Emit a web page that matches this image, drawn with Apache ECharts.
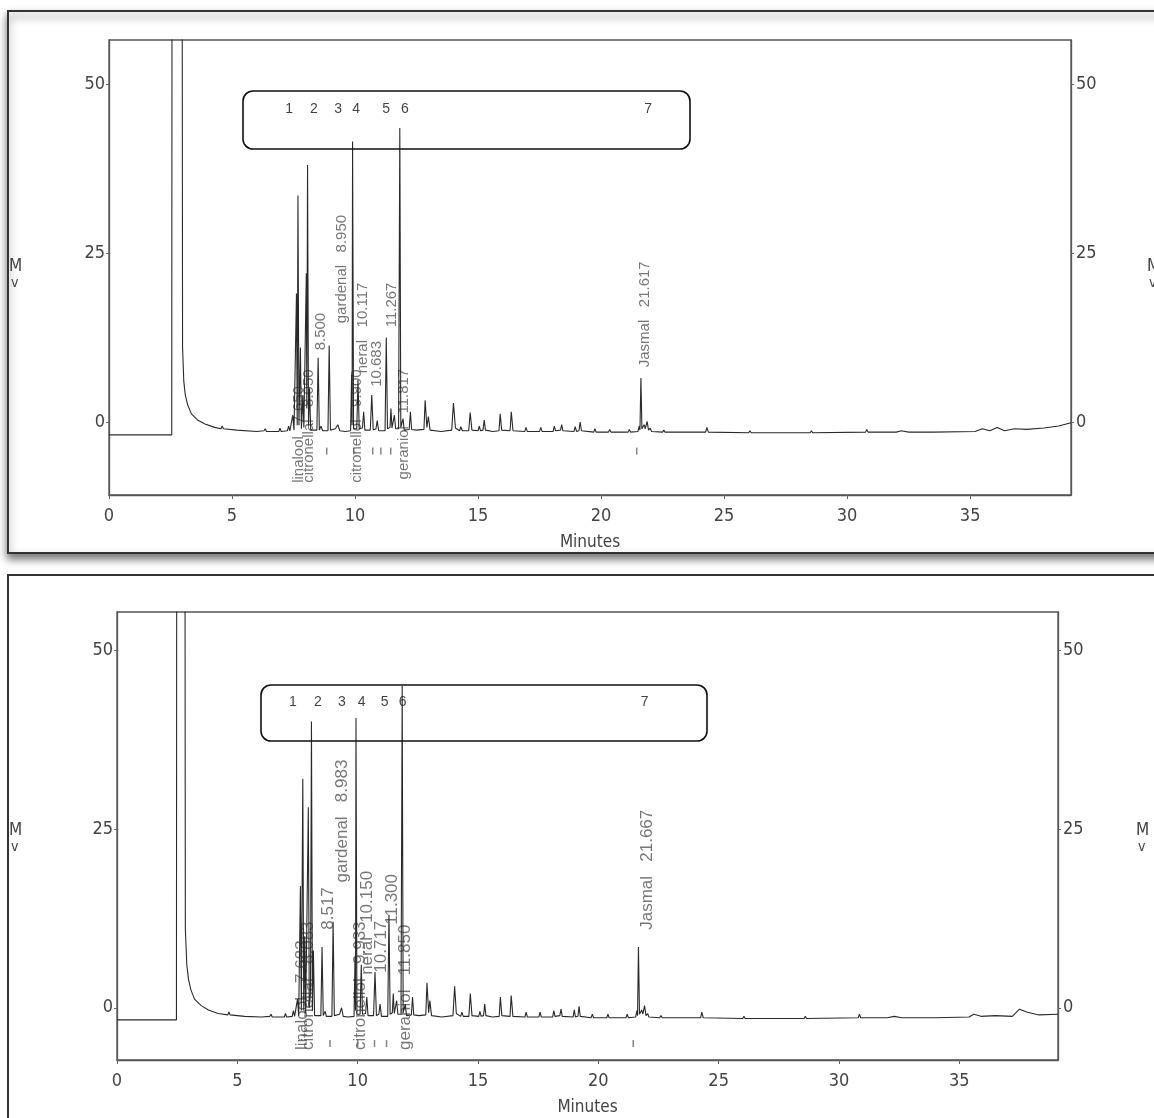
<!DOCTYPE html>
<html>
<head>
<meta charset="utf-8">
<style>
  html, body { margin: 0; padding: 0; background: #fff; }
  #main { width: 1154px; height: 1118px; }
</style>
<script src="https://cdn.jsdelivr.net/npm/echarts@6/dist/echarts.min.js"></script>
</head>
<body>
<div id="main"></div>
<script>
// chromatogram traces: [minutes, mV]
var traceTop = [
  [0,-1.9],[2.55,-1.9],[2.57,120],[2.96,120],[2.99,11],[3.04,6],[3.1,4],[3.2,2.5],[3.35,1.2],[3.6,0.3],[3.9,-0.3],[4.3,-0.8],
  [4.55,-1.0],[4.6,-0.6],[4.65,-1.0],[5.2,-1.2],[6.0,-1.4],[6.3,-1.3],[6.35,-1.0],[6.4,-1.4],[6.9,-1.4],[6.95,-0.9],[7.0,-1.4],
  [7.25,-1.3],[7.3,-0.6],[7.35,-1.3],[7.42,-1.2],[7.47,1.0],[7.52,-1.2],
  [7.58,-1.2],[7.62,19],[7.65,-0.5],[7.68,33.5],[7.72,-0.5],[7.78,11],[7.82,-1.0],[7.88,4],[7.92,-0.8],[7.98,-0.8],
  [8.02,22],[8.04,2],[8.07,38],[8.11,-0.5],[8.15,5],[8.2,-1.2],
  [8.45,-1.2],[8.5,9.5],[8.55,-1.2],[8.62,-0.6],[8.68,-1.3],
  [8.9,-1.3],[8.95,11.3],[9.0,-1.2],[9.2,-1.0],[9.3,-0.4],[9.38,-1.3],[9.6,-1.4],
  [9.82,-1.3],[9.86,7],[9.88,-0.5],[9.9,41.5],[9.94,-1.0],
  [10.07,-1.0],[10.12,6.2],[10.17,-1.0],[10.3,-0.9],[10.35,1.5],[10.4,-1.2],[10.62,-1.2],[10.68,4],[10.74,-1.2],
  [10.85,-1.0],[10.9,0.2],[10.96,-1.3],
  [11.22,-1.3],[11.27,12.5],[11.32,-1.0],[11.42,-0.8],[11.46,2],[11.5,-0.9],[11.6,1],[11.65,-1.0],
  [11.77,-1.0],[11.82,43.5],[11.86,-0.8],[11.95,0.5],[12.0,-1.2],[12.2,-1.1],[12.25,1.5],[12.3,-1.1],[12.5,-1.2],
  [12.8,-1.1],[12.85,3.2],[12.92,-0.8],[12.98,0.8],[13.05,-1.2],[13.5,-1.4],[13.93,-1.2],[14.0,2.8],[14.08,-0.9],
  [14.25,-1.3],[14.3,-0.7],[14.36,-1.3],[14.62,-1.3],[14.68,1.4],[14.75,-1.2],[15.0,-1.3],[15.05,-0.6],[15.1,-1.3],
  [15.2,-1.2],[15.25,0.3],[15.3,-1.2],[15.6,-1.4],[15.85,-1.3],[15.9,1.2],[15.96,-1.2],[16.3,-1.3],[16.35,1.5],[16.42,-1.3],
  [16.9,-1.4],[16.95,-0.8],[17.0,-1.4],[17.5,-1.4],[17.55,-0.8],[17.6,-1.4],[18.05,-1.4],[18.1,-0.6],[18.15,-1.3],
  [18.35,-1.2],[18.4,-0.4],[18.45,-1.3],[18.9,-1.4],[18.95,-0.7],[19.0,-1.4],[19.1,-1.3],[19.15,0],[19.2,-1.3],
  [19.7,-1.5],[19.75,-1.0],[19.8,-1.5],[20.3,-1.5],[20.35,-1.1],[20.4,-1.5],[21.1,-1.5],[21.15,-1.1],[21.2,-1.5],
  [21.5,-1.4],[21.55,-0.6],[21.58,-1.2],[21.62,6.5],[21.66,-1.0],[21.75,-0.4],[21.8,-1.0],[21.87,0.1],[21.93,-1.2],
  [22.0,-0.9],[22.05,-1.4],[22.5,-1.5],[22.55,-1.2],[22.6,-1.5],[24.25,-1.5],[24.3,-0.8],[24.36,-1.5],
  [26,-1.6],[26.05,-1.3],[26.1,-1.6],[28.5,-1.6],[28.55,-1.3],[28.6,-1.6],[30.75,-1.5],[30.8,-1.1],[30.85,-1.5],
  [32,-1.5],[32.2,-1.3],[32.5,-1.5],[33.5,-1.5],[35.2,-1.4],[35.5,-1.0],[35.8,-1.3],[36.1,-0.8],[36.4,-1.3],
  [36.8,-1.0],[37.3,-1.1],[38,-0.9],[38.6,-0.6],[39.1,-0.1]
];

var traceBottom = [
  [0,-1.7],[2.47,-1.7],[2.49,120],[2.81,120],[2.84,11],[2.9,6],[2.97,4],[3.07,2.5],[3.22,1.2],[3.5,0.3],[3.8,-0.3],[4.2,-0.8],
  [4.6,-1.0],[4.65,-0.6],[4.7,-1.0],[5.3,-1.2],[6.0,-1.3],[6.35,-1.2],[6.4,-0.9],[6.45,-1.3],[6.95,-1.3],[7.0,-0.8],[7.05,-1.3],
  [7.28,-1.2],[7.33,-0.4],[7.38,-1.2],[7.45,-1.1],[7.5,1.2],[7.55,-1.1],
  [7.58,-1.1],[7.62,17],[7.66,-0.4],[7.72,32],[7.76,-0.4],[7.8,10],[7.84,-0.8],[7.9,-0.8],[7.95,28],[7.99,0],
  [8.04,2],[8.08,40],[8.12,-0.4],[8.16,8],[8.21,-1.1],
  [8.47,-1.1],[8.52,8.5],[8.57,-1.1],[8.65,-0.5],[8.7,-1.2],
  [8.93,-1.2],[8.98,12],[9.03,-1.1],[9.25,-0.9],[9.33,0],[9.4,-1.2],[9.6,-1.3],
  [9.85,-1.2],[9.89,7],[9.91,-0.4],[9.93,40.5],[9.97,-0.9],
  [10.1,-0.9],[10.15,6],[10.2,-0.9],[10.33,-0.8],[10.38,1.5],[10.43,-1.1],[10.66,-1.1],[10.72,5],[10.78,-1.1],
  [10.88,-0.9],[10.93,0.5],[10.99,-1.2],
  [11.25,-1.2],[11.3,13],[11.35,-0.9],[11.44,-0.7],[11.48,2],[11.52,-0.8],[11.62,1],[11.67,-0.9],
  [11.8,-0.9],[11.85,45],[11.89,-0.7],[11.98,0.5],[12.03,-1.1],[12.23,-1.0],[12.28,1.5],[12.33,-1.0],[12.55,-1.1],
  [12.83,-1.0],[12.88,3.5],[12.95,-0.7],[13.0,1.0],[13.07,-1.1],[13.5,-1.3],[13.96,-1.1],[14.03,3],[14.1,-0.8],
  [14.28,-1.2],[14.33,-0.6],[14.39,-1.2],[14.62,-1.2],[14.68,2],[14.75,-1.1],[15.03,-1.2],[15.08,-0.5],[15.13,-1.2],
  [15.23,-1.1],[15.28,0.5],[15.33,-1.1],[15.6,-1.3],[15.88,-1.2],[15.93,1.5],[15.99,-1.1],[16.33,-1.2],[16.38,1.7],[16.45,-1.2],
  [16.95,-1.3],[17.0,-0.6],[17.05,-1.3],[17.53,-1.3],[17.58,-0.6],[17.63,-1.3],[18.1,-1.3],[18.15,-0.4],[18.2,-1.2],
  [18.4,-1.1],[18.45,-0.2],[18.5,-1.2],[18.95,-1.3],[19.0,-0.3],[19.05,-1.3],[19.15,-1.2],[19.2,0.2],[19.25,-1.2],
  [19.7,-1.4],[19.75,-0.9],[19.8,-1.4],[20.35,-1.4],[20.4,-0.9],[20.45,-1.4],[21.15,-1.4],[21.2,-0.9],[21.25,-1.4],
  [21.55,-1.3],[21.6,-0.4],[21.63,-1.1],[21.667,8.5],[21.71,-0.9],[21.8,-0.3],[21.85,-0.9],[21.92,0.3],[21.98,-1.1],
  [22.05,-0.8],[22.1,-1.3],[22.55,-1.4],[22.6,-1.1],[22.65,-1.4],[24.25,-1.4],[24.3,-0.6],[24.36,-1.4],
  [26,-1.5],[26.05,-1.2],[26.1,-1.5],[28.55,-1.5],[28.6,-1.2],[28.65,-1.5],[30.8,-1.4],[30.85,-0.9],[30.9,-1.4],
  [32,-1.4],[32.3,-1.2],[32.6,-1.4],[34,-1.4],[35.4,-1.3],[35.6,-0.9],[35.9,-1.2],[36.5,-1.1],[37.2,-1.2],
  [37.5,-0.2],[37.8,-0.6],[38.3,-1.0],[39.1,-0.9]
];

// peak labels: [minutes, mV where the text starts, text]
var peakLabelsTop = [
  [7.72, -9.0, 'linalool   7.650'],
  [8.13, -9.0, 'citronellal   8.050'],
  [8.62, 10.6, '8.500'],
  [9.47, 14.6, 'gardenal   8.950'],
  [10.08, -9.0, 'citronellol   9.900'],
  [10.3, 7.2, 'neral   10.117'],
  [10.9, 5.2, '10.683'],
  [11.5, 14.0, '11.267'],
  [12.0, -8.5, 'geraniol   11.817'],
  [21.79, 8.1, 'Jasmal   21.617']
];
var peakLabelsBottom = [
  [7.72, -5.9, 'linalool   7.683'],
  [7.97, -5.9, 'citronellal   8.083'],
  [8.76, 10.9, '8.517'],
  [9.38, 17.5, 'gardenal   8.983'],
  [10.09, -5.9, 'citronellol   9.933'],
  [10.4, 4.6, 'neral   10.150'],
  [11.0, 4.9, '10.717'],
  [11.46, 11.6, '11.300'],
  [12.0, -5.9, 'geraniol   11.850'],
  [22.04, 10.9, 'Jasmal   21.667']
];

// numbered tags inside the rounded boxes: [minutes, mV, text]
var boxNumbersTop = [[7.32,46.2,'1'],[8.33,46.2,'2'],[9.31,46.2,'3'],[10.04,46.2,'4'],[11.26,46.2,'5'],[12.03,46.2,'6'],[21.91,46.2,'7']];
var boxNumbersBottom = [[7.31,42.7,'1'],[8.35,42.7,'2'],[9.34,42.7,'3'],[10.17,42.7,'4'],[11.12,42.7,'5'],[11.87,42.7,'6'],[21.92,42.7,'7']];

// integration marks under the baseline
var marksTop = [[8.85,-4.3],[9.95,-4.3],[10.72,-4.3],[11.05,-4.3],[11.45,-4.3],[21.45,-4.3]];
var marksBottom = [[8.85,-5.0],[10.0,-5.0],[10.7,-5.0],[11.2,-5.0],[21.45,-5.0]];

var xTicks = [0, 5, 10, 15, 20, 25, 30, 35];
var yTicks = [0, 25, 50];

var numFont = "'Liberation Sans Narrow', 'DejaVu Sans Condensed', sans-serif";
var lblFont = "'Liberation Sans', Arial, sans-serif";

var myChart = echarts.init(document.getElementById('main'));

function xAxisOf(grid) {
  return {
    type: 'value', gridIndex: grid, min: 0, max: 39.1,
    name: 'Minutes', nameLocation: 'middle', nameGap: 39,
    nameTextStyle: { color: '#444', fontSize: 17, fontFamily: numFont },
    axisLine: { show: true, onZero: false, lineStyle: { color: '#555', width: 1.3 } },
    axisTick: { show: true, length: 4, customValues: xTicks, lineStyle: { color: '#666' } },
    axisLabel: { customValues: xTicks, margin: 12, color: '#444', fontSize: 18, fontFamily: numFont },
    splitLine: { show: false }
  };
}
function yAxisOf(grid, pos, min, max) {
  return {
    type: 'value', gridIndex: grid, position: pos, min: min, max: max,
    axisLine: { show: true, onZero: false, lineStyle: { color: '#555', width: 1.3 } },
    axisTick: { show: true, length: 3, customValues: yTicks, lineStyle: { color: '#666' } },
    axisLabel: { customValues: yTicks, margin: pos === 'left' ? 4 : 5, color: '#444', fontSize: 18, fontFamily: numFont },
    splitLine: { show: false }
  };
}
function labelSeries(xi, yi, rows, size) {
  return {
    type: 'scatter', xAxisIndex: xi, yAxisIndex: yi, symbolSize: 1, silent: true,
    itemStyle: { color: 'rgba(0,0,0,0)' },
    label: { show: true, formatter: '{b}', rotate: 90, position: 'inside', align: 'left', verticalAlign: 'middle',
             color: '#555', fontSize: size, fontFamily: lblFont },
    data: rows.map(function (r) { return { name: r[2], value: [r[0], r[1]] }; })
  };
}
function numberSeries(xi, yi, rows) {
  return {
    type: 'scatter', xAxisIndex: xi, yAxisIndex: yi, symbolSize: 1, silent: true,
    itemStyle: { color: 'rgba(0,0,0,0)' },
    label: { show: true, formatter: '{b}', position: 'inside', color: '#111', fontSize: 14, fontFamily: lblFont },
    data: rows.map(function (r) { return { name: r[2], value: [r[0], r[1]] }; })
  };
}
function markSeries(xi, yi, rows) {
  return {
    type: 'scatter', xAxisIndex: xi, yAxisIndex: yi, symbol: 'rect', symbolSize: [1.5, 7], silent: true,
    itemStyle: { color: '#666' }, data: rows
  };
}
function traceSeries(xi, yi, rows) {
  return {
    type: 'line', xAxisIndex: xi, yAxisIndex: yi, showSymbol: false, clip: true, silent: true,
    lineStyle: { color: '#2a2a2a', width: 1.1 }, data: rows
  };
}

var option = {
  backgroundColor: '#fff',
  animation: false,
  grid: [
    { left: 109, right: 83, top: 40, height: 455, show: true, borderColor: '#555', borderWidth: 1.3 },
    { left: 117, right: 96, top: 612, height: 448, show: true, borderColor: '#555', borderWidth: 1.3 }
  ],
  xAxis: [xAxisOf(0), xAxisOf(1)],
  yAxis: [
    yAxisOf(0, 'left', -10.8, 56.5), yAxisOf(0, 'right', -10.8, 56.5),
    yAxisOf(1, 'left', -7.3, 55.3), yAxisOf(1, 'right', -7.3, 55.3)
  ],
  graphic: [
    // panel frames
    { type: 'rect', z: -10, shape: { x: 8, y: 11, width: 1160, height: 542 },
      style: { fill: '#fff', stroke: '#333', lineWidth: 2, shadowBlur: 8, shadowOffsetY: 5, shadowColor: 'rgba(0,0,0,0.55)' } },
    { type: 'rect', z: -10, shape: { x: 8, y: 575, width: 1160, height: 560 },
      style: { fill: '#fff', stroke: '#333', lineWidth: 2 } },
    // rounded tag boxes
    { type: 'rect', z: 50, shape: { x: 243, y: 91, width: 447, height: 58, r: 10 },
      style: { fill: 'none', stroke: '#111', lineWidth: 1.6 } },
    { type: 'rect', z: 50, shape: { x: 261, y: 685, width: 446, height: 56, r: 10 },
      style: { fill: 'none', stroke: '#111', lineWidth: 1.6 } },
    // mV axis names
    { type: 'text', left: 9, top: 258, style: { text: 'M', fill: '#444', font: '17px ' + numFont } },
    { type: 'text', left: 11, top: 276, style: { text: 'v', fill: '#444', font: '14px ' + numFont } },
    { type: 'text', left: 1147, top: 258, style: { text: 'M', fill: '#444', font: '17px ' + numFont } },
    { type: 'text', left: 1149, top: 276, style: { text: 'v', fill: '#444', font: '14px ' + numFont } },
    { type: 'text', left: 9, top: 822, style: { text: 'M', fill: '#444', font: '17px ' + numFont } },
    { type: 'text', left: 11, top: 840, style: { text: 'v', fill: '#444', font: '14px ' + numFont } },
    { type: 'text', left: 1136, top: 822, style: { text: 'M', fill: '#444', font: '17px ' + numFont } },
    { type: 'text', left: 1138, top: 840, style: { text: 'v', fill: '#444', font: '14px ' + numFont } }
  ],
  series: [
    traceSeries(0, 0, traceTop),
    markSeries(0, 0, marksTop),
    labelSeries(0, 0, peakLabelsTop, 15),
    numberSeries(0, 0, boxNumbersTop),
    traceSeries(1, 2, traceBottom),
    markSeries(1, 2, marksBottom),
    labelSeries(1, 2, peakLabelsBottom, 17),
    numberSeries(1, 2, boxNumbersBottom)
  ]
};
myChart.setOption(option);
</script>
</body>
</html>
